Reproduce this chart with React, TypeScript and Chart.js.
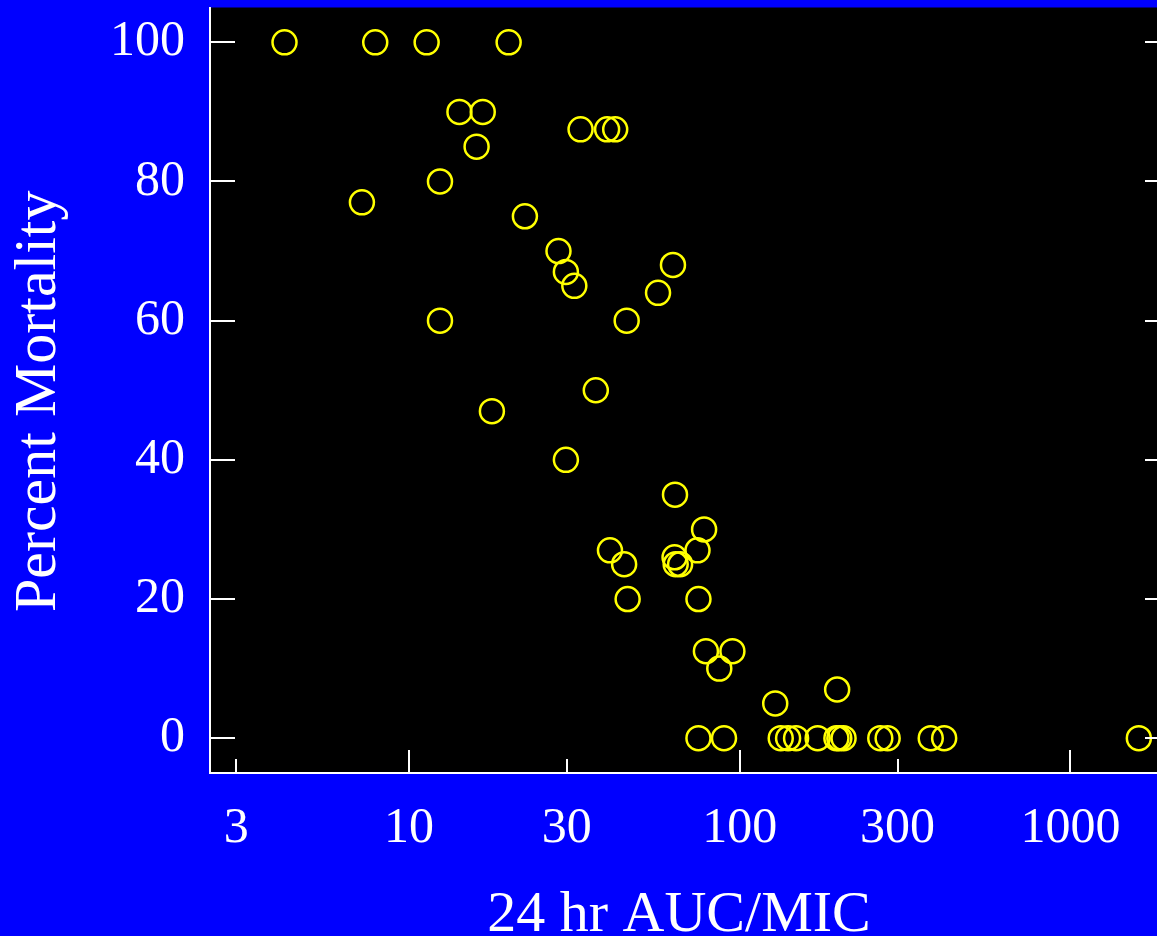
import { useEffect, useRef } from "react";
import { Chart, registerables } from "chart.js";

Chart.register(...registerables);

// 24 hr AUC/MIC values (x) and percent mortality (y)
const aucMic = [
  4.2, 7.9, 11.3, 20,
  14.2, 16.7,
  33, 39.7, 42,
  16,
  12.4,
  7.2,
  22.4,
  28.3,
  29.8,
  31.6,
  62.8,
  56.6,
  12.4, 45.5,
  36.7,
  17.8,
  29.8,
  63.7,
  78,
  74.5, 40.5,
  63.5,
  44.7, 64, 66,
  45.8, 75,
  79, 95,
  86.7,
  197,
  128,
  75, 89.6, 133, 140, 148, 172, 196, 200, 206, 266, 280, 378, 415, 1610,
];
const mortality = [
  100, 100, 100, 100,
  90, 90,
  87.5, 87.5, 87.5,
  85,
  80,
  77,
  75,
  70,
  67,
  65,
  68,
  64,
  60, 60,
  50,
  47,
  40,
  35,
  30,
  27, 27,
  26,
  25, 25, 25,
  20, 20,
  12.5, 12.5,
  10,
  7,
  5,
  0, 0, 0, 0, 0, 0, 0, 0, 0, 0, 0, 0, 0, 0,
];

const xTickValues = [3, 10, 30, 100, 300, 1000];
const xTickLabels = ["3", "10", "30", "100", "300", "1000"];
const xMajorTicks = [10, 100, 1000];
const yTickValues = [0, 20, 40, 60, 80, 100];
const yTickLabels = ["0", "20", "40", "60", "80", "100"];
const xTitle = "24 hr AUC/MIC";
const yTitle = "Percent Mortality";

const FONT = "'Liberation Serif', 'Times New Roman', Times, serif";

const bgPlugin = {
  id: "bgPlugin",
  beforeDraw(chart: any) {
    const { ctx, width, height, chartArea } = chart;
    ctx.save();
    ctx.fillStyle = "#0000FF";
    ctx.fillRect(0, 0, width, height);
    ctx.fillStyle = "#000000";
    ctx.fillRect(
      chartArea.left,
      chartArea.top,
      chartArea.right - chartArea.left,
      chartArea.bottom - chartArea.top
    );
    ctx.restore();
  },
};

const innerTicksPlugin = {
  id: "innerTicks",
  afterDraw(chart: any) {
    const { ctx, chartArea, scales } = chart;
    const xs = scales.x;
    const ys = scales.y;
    ctx.save();
    ctx.strokeStyle = "#FFFFFF";
    ctx.lineWidth = 2;
    ctx.beginPath();
    for (const v of yTickValues) {
      const py = Math.round(ys.getPixelForValue(v));
      ctx.moveTo(chartArea.left, py);
      ctx.lineTo(chartArea.left + 25, py);
      ctx.moveTo(chartArea.right - 25, py);
      ctx.lineTo(chartArea.right, py);
    }
    for (const v of xTickValues) {
      const px = Math.round(xs.getPixelForValue(v));
      const len = xMajorTicks.includes(v) ? 23 : 14;
      ctx.moveTo(px, chartArea.bottom);
      ctx.lineTo(px, chartArea.bottom - len);
    }
    ctx.stroke();

    // axis titles
    ctx.fillStyle = "#FFFFFF";
    ctx.textBaseline = "alphabetic";
    ctx.textAlign = "center";
    ctx.font = `58px ${FONT}`;
    const midX = (chartArea.left + chartArea.right) / 2 - 11;
    ctx.fillText(xTitle, midX, chartArea.bottom + 157.5);

    ctx.font = `60px ${FONT}`;
    const midY = (chartArea.top + chartArea.bottom) / 2 + 11;
    ctx.translate(chartArea.left - 155, midY);
    ctx.rotate(-Math.PI / 2);
    ctx.fillText(yTitle, 0, 0);
    ctx.restore();
  },
};

export default function App() {
  const canvasRef = useRef<HTMLCanvasElement | null>(null);

  useEffect(() => {
    if (!canvasRef.current) return;
    const chart = new Chart(canvasRef.current, {
      type: "scatter",
      data: {
        datasets: [
          {
            label: "Mortality",
            data: aucMic.map((x, i) => ({ x, y: mortality[i] })),
            pointStyle: "circle",
            pointRadius: 12,
            pointHoverRadius: 12,
            pointBorderWidth: 2.5,
            pointBorderColor: "#FFFF00",
            pointBackgroundColor: "rgba(0,0,0,0)",
            borderColor: "#FFFF00",
            backgroundColor: "rgba(0,0,0,0)",
          },
        ],
      },
      options: {
        animation: false,
        responsive: false,
        maintainAspectRatio: false,
        devicePixelRatio: 1,
        layout: {
          autoPadding: false,
          padding: { top: 7.5, right: 2, left: 0, bottom: 0 },
        },
        plugins: {
          legend: { display: false },
          tooltip: { enabled: false },
        },
        events: [],
        scales: {
          x: {
            type: "logarithmic",
            position: "bottom",
            min: 2.5,
            max: 2000,
            bounds: "data",
            grid: { display: false, drawTicks: false },
            border: { display: true, color: "#FFFFFF", width: 2 },
            ticks: {
              color: "#FFFFFF",
              font: { family: FONT, size: 50 },
              padding: 26,
              maxRotation: 0,
              autoSkip: false,
              callback: (value: any) => {
                const idx = xTickValues.indexOf(Number(value));
                return idx >= 0 ? xTickLabels[idx] : "";
              },
            },
            title: { display: false, text: xTitle },
            afterBuildTicks: (scale: any) => {
              scale.ticks = xTickValues.map((v) => ({ value: v }));
            },
            afterFit: (scale: any) => {
              scale.height = 187;
              scale.paddingLeft = 0;
              scale.paddingRight = 0;
            },
          },
          y: {
            type: "linear",
            position: "left",
            min: -5,
            max: 105,
            bounds: "data",
            grid: { display: false, drawTicks: false },
            border: { display: true, color: "#FFFFFF", width: 2 },
            ticks: {
              color: "#FFFFFF",
              font: { family: FONT, size: 50 },
              padding: 25,
              autoSkip: false,
              callback: (value: any) => {
                const idx = yTickValues.indexOf(Number(value));
                return idx >= 0 ? yTickLabels[idx] : "";
              },
            },
            title: { display: false, text: yTitle },
            afterBuildTicks: (scale: any) => {
              scale.ticks = yTickValues.map((v) => ({ value: v }));
            },
            afterFit: (scale: any) => {
              scale.width = 210;
              scale.paddingTop = 0;
              scale.paddingBottom = 0;
            },
          },
        },
      },
      plugins: [bgPlugin, innerTicksPlugin],
    } as any);
    return () => chart.destroy();
  }, []);

  return (
    <div
      style={{
        position: "absolute",
        left: 0,
        top: 0,
        width: 1157,
        height: 936,
        overflow: "hidden",
        background: "#0000FF",
      }}
    >
      <canvas
        ref={canvasRef}
        width={1172}
        height={960}
        style={{ display: "block", width: 1172, height: 960 }}
      />
    </div>
  );
}
